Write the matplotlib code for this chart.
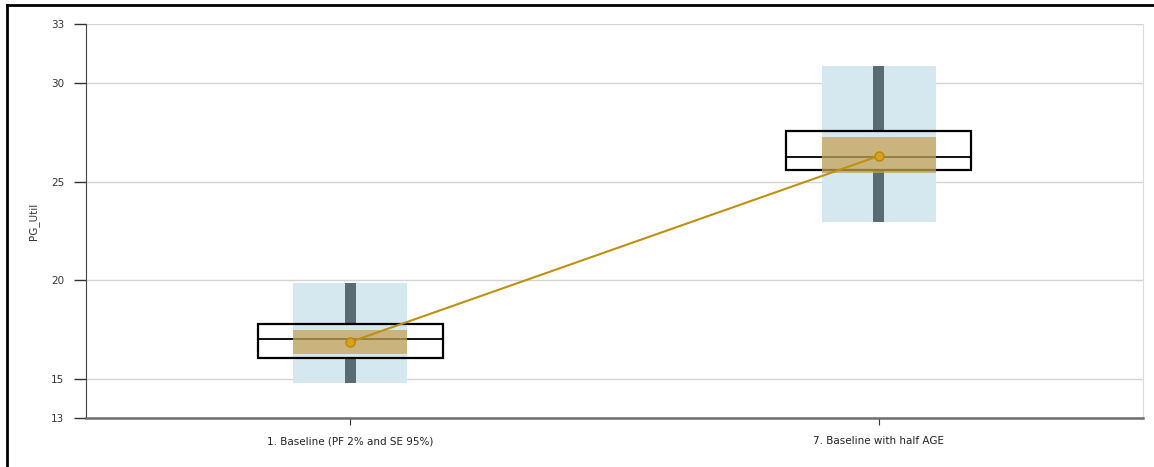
import matplotlib.pyplot as plt
from matplotlib.lines import Line2D

# scenario summary stats for PG_Util
scenarios = ['1. Baseline (PF 2% and SE 95%)', '7. Baseline with half AGE']
min_vals = [14.8, 22.95]
max_vals = [19.85, 30.87]
q1_vals = [16.05, 25.59]
q3_vals = [17.77, 27.57]
median_vals = [17.0, 26.25]
mean_vals = [16.86, 26.30]
ci_low = [16.25, 25.44]
ci_high = [17.47, 27.26]

y_ticks = [13, 15, 20, 25, 30, 33]

fig = plt.figure(figsize=(11.54, 4.67), dpi=100)
ax = fig.add_axes([0.0745, 0.1049, 0.916, 0.8437])

x = list(range(len(scenarios)))

# min-max band
ax.bar(x, [hi - lo for lo, hi in zip(min_vals, max_vals)], bottom=min_vals,
       width=0.216, color='#d5e8f0', zorder=2)

# whiskers from box edges out to extremes
for xi, lo, q1, q3, hi in zip(x, min_vals, q1_vals, q3_vals, max_vals):
    ax.bar(xi, hi - q3, bottom=q3, width=0.021, color='#5b6b73', zorder=3)
    ax.bar(xi, q1 - lo, bottom=lo, width=0.021, color='#5b6b73', zorder=3)

# quartile box with median
ax.bar(x, [q3 - q1 for q1, q3 in zip(q1_vals, q3_vals)], bottom=q1_vals,
       width=0.35, fill=False, edgecolor='black', linewidth=1.6, zorder=4)
for xi, med in zip(x, median_vals):
    ax.plot([xi - 0.175, xi + 0.175], [med, med], color='black', lw=1.3, zorder=4)

# confidence band of the mean
ax.bar(x, [hi - lo for lo, hi in zip(ci_low, ci_high)], bottom=ci_low,
       width=0.216, color='#c4a355', alpha=0.75, zorder=5)

# mean trend
ax.plot(x, mean_vals, color='#bf900f', lw=1.5, marker='o', markersize=6.5,
        markerfacecolor='#d9a21a', markeredgecolor='#b8860b', zorder=6)

ax.set_xlim(-0.5, 1.5)
ax.set_ylim(13, 33)
ax.set_yticks(y_ticks)
ax.set_yticklabels([str(t) for t in y_ticks])
ax.set_xticks(x)
ax.set_xticklabels(scenarios)
ax.tick_params(axis='y', length=8.5, width=1, color='#333333', labelsize=7.5,
               labelcolor='#333333', pad=7)
ax.tick_params(axis='x', length=5, width=0.8, color='#333333', labelsize=7.5,
               labelcolor='#222222', pad=8)
ax.set_ylabel('PG_Util', fontsize=7.5, color='#333333', labelpad=9)

ax.grid(axis='y', color='#d4d4d4', lw=1, zorder=0)
ax.set_axisbelow(True)
ax.spines['top'].set_visible(False)
ax.spines['left'].set_color('#444444')
ax.spines['bottom'].set_color('#6e6e6e')
ax.spines['bottom'].set_linewidth(1.8)
ax.spines['right'].set_color('#dcdcdc')

# outer frame on left and top
fig.add_artist(Line2D([7 / 1154, 7 / 1154], [0, 1 - 5 / 467], color='black', lw=2))
fig.add_artist(Line2D([7 / 1154, 1], [1 - 5 / 467, 1 - 5 / 467], color='black', lw=2))

fig.savefig('out.png', dpi=100)
